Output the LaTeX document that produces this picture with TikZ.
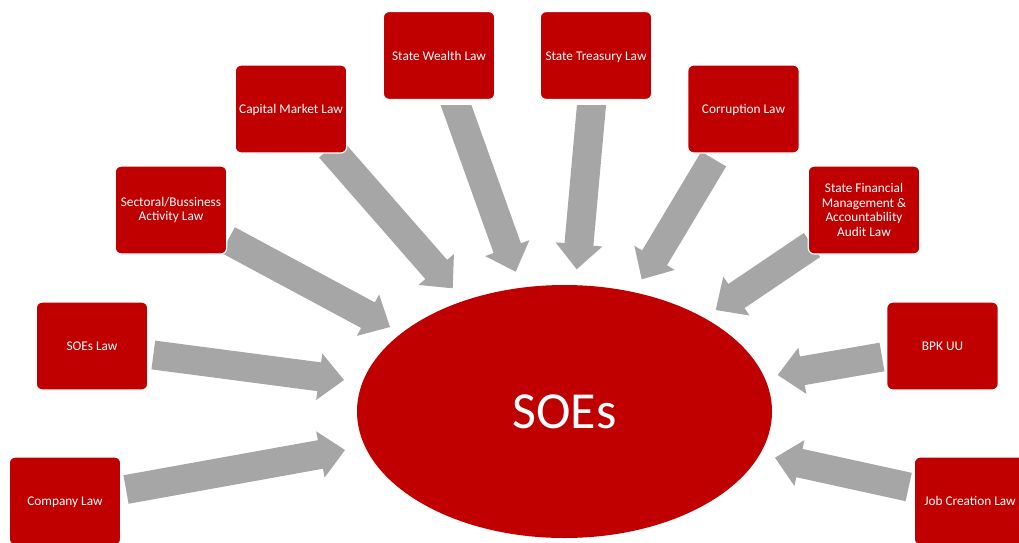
\documentclass[tikz,border=0pt]{standalone}
\usepackage{fontspec}
\setmainfont{Carlito}
\usetikzlibrary{calc,shapes.geometric}
\definecolor{boxred}{HTML}{C00000}
\definecolor{arrowgray}{HTML}{A6A6A6}
\newcommand\blockarrow[2]{%
  \path ($(#2)!25pt!(#1)$) coordinate (hb);
  \fill[arrowgray] ($(#1)!14.5pt!90:(#2)$) -- ($(hb)!14.5pt!90:(#2)$) -- ($(hb)!23.5pt!90:(#2)$)
    -- (#2) -- ($(hb)!23.5pt!-90:(#2)$) -- ($(hb)!14.5pt!-90:(#2)$) -- ($(#1)!14.5pt!-90:(#2)$) -- cycle;}
\begin{document}
\begin{tikzpicture}[x=1pt,y=-1pt,
  lawbox/.style={rectangle, rounded corners=6pt, fill=boxred, draw=white, line width=1.2pt,
    minimum width=111.5pt, minimum height=88pt, inner sep=0pt, align=center, text=white,
    font=\fontsize{13.3}{14.7}\selectfont},
  oneline/.style={lawbox, text height=9.6pt, text depth=0pt},
  hub/.style={ellipse, fill=boxred, minimum width=415pt, minimum height=253pt, inner sep=0pt,
    text=white, font=\fontsize{52}{60}\selectfont}]
\useasboundingbox (0,0) rectangle (1019,542);
% arrow end points
\coordinate (t1) at (126,489.5);  \coordinate (h1) at (345,450);
\coordinate (t2) at (153.3,355);  \coordinate (h2) at (344,380);
\coordinate (t3) at (228,240);    \coordinate (h3) at (390,327);
\coordinate (t4) at (330,148);    \coordinate (h4) at (452.7,288.3);
\coordinate (t5) at (452.6,95.6); \coordinate (h5) at (515.7,271.7);
\coordinate (t6) at (592.4,95);   \coordinate (h6) at (576.7,269.3);
\coordinate (t7) at (713.7,159);  \coordinate (h7) at (641.7,279.3);
\coordinate (t8) at (812,245);    \coordinate (h8) at (715.7,310);
\coordinate (t9) at (882,357);    \coordinate (h9) at (777.7,375);
\coordinate (t10) at (908.7,487); \coordinate (h10) at (775,457.7);
\foreach \i in {1,2,3,4,7,8,9,10}{\blockarrow{t\i}{h\i}}
\begin{scope}
  \clip (0,105) rectangle (1019,542);
  \blockarrow{t5}{h5}
  \blockarrow{t6}{h6}
\end{scope}
% boxes
\node[oneline] (company) at (65,501) {Company Law};
\node[oneline] (soeslaw) at (92,346) {SOEs Law};
\node[lawbox] (sectoral) at (171,210) {Sectoral/Bussiness\\Activity Law};
\node[oneline] (capital) at (291,109) {Capital Market Law};
\node[oneline] (wealth) at (439,55.5) {State Wealth Law};
\node[oneline] (treasury) at (596,55.5) {State Treasury Law};
\node[oneline] (corruption) at (743.5,109) {Corruption Law};
\node[lawbox] (finance) at (864,210) {State Financial\\Management \&\\Accountability\\Audit Law};
\node[oneline] (bpk) at (942.5,346) {BPK UU};
\node[oneline] (job) at (970,501) {Job Creation Law};
% hub
\node[hub] (soes) at (564.5,411.5) {SOEs};
\end{tikzpicture}
\end{document}
